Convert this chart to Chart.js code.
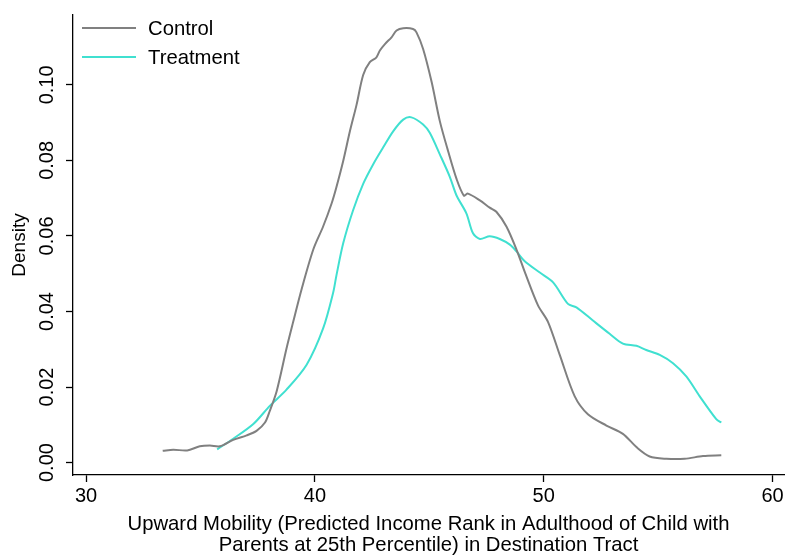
<!DOCTYPE html>
<html>
<head>
<meta charset="utf-8">
<script src="https://cdn.jsdelivr.net/npm/chart.js@4"></script>
<style>
  html, body { margin: 0; padding: 0; background: #fff; }
  #wrap { width: 786px; height: 556px; }
</style>
</head>
<body>
<div id="wrap"><canvas id="densityChart"></canvas></div>
<script>
// values
const seriesNames = ["Control", "Treatment"];

const controlX = [33.35, 33.81, 34.42, 34.97, 35.41, 35.85, 36.43, 37.02, 37.45, 37.82, 38.03, 38.33, 38.76, 39.05,
  39.42, 39.93, 40.36, 40.73, 40.94, 41.24, 41.53, 41.82, 42.11, 42.40, 42.69, 42.84, 43.06, 43.35, 43.57, 43.86,
  44.29, 44.44, 44.73, 45.10, 45.46, 45.82, 46.19, 46.51, 46.69, 47.21, 47.64, 47.93, 48.37, 48.81, 49.20, 49.75,
  50.19, 50.70, 51.35, 51.93, 52.74, 53.46, 54.05, 54.63, 55.36, 56.16, 56.96, 57.76];
const controlY = [0.0031, 0.0034, 0.0032, 0.0043, 0.0045, 0.0043, 0.0060, 0.0072, 0.0084, 0.0106, 0.0137, 0.0189, 0.0302, 0.0372,
  0.0459, 0.0564, 0.0625, 0.0686, 0.0729, 0.0799, 0.0877, 0.0947, 0.1026, 0.1060, 0.1073, 0.1091, 0.1108, 0.1126, 0.1144, 0.1150,
  0.1148, 0.1139, 0.1095, 0.1008, 0.0904, 0.0825, 0.0751, 0.0707, 0.0712, 0.0694, 0.0675, 0.0664, 0.0625, 0.0564, 0.0500, 0.0416,
  0.0372, 0.0285, 0.0176, 0.0128, 0.0098, 0.0076, 0.0041, 0.0016, 0.0010, 0.0010, 0.0017, 0.0019];

const treatX = [35.73, 36.43, 37.31, 38.03, 38.76, 39.64, 40.36, 40.80, 40.94, 41.24, 41.67, 42.11, 42.55, 42.98,
  43.42, 43.86, 44.22, 44.73, 45.02, 45.46, 45.90, 46.19, 46.62, 46.91, 47.21, 47.64, 48.08, 48.52, 48.81, 49.17,
  49.83, 50.41, 51.06, 51.43, 52.15, 52.88, 53.46, 54.05, 54.48, 55.07, 55.65, 56.23, 56.81, 57.54, 57.76];
const treatY = [0.0035, 0.0063, 0.0102, 0.0150, 0.0193, 0.0259, 0.0355, 0.0450, 0.0495, 0.0581, 0.0668, 0.0738, 0.0790, 0.0834,
  0.0877, 0.0908, 0.0914, 0.0895, 0.0873, 0.0816, 0.0756, 0.0707, 0.0660, 0.0607, 0.0592, 0.0599, 0.0592, 0.0577, 0.0559, 0.0533,
  0.0503, 0.0477, 0.0420, 0.0411, 0.0376, 0.0341, 0.0315, 0.0309, 0.0298, 0.0285, 0.0263, 0.0228, 0.0176, 0.0115, 0.0106];

const xTicks = [30, 40, 50, 60];
const yTicks = [0, 0.02, 0.04, 0.06, 0.08, 0.10];
const xTitle = ["Upward Mobility (Predicted Income Rank in Adulthood of Child with",
  "Parents at 25th Percentile) in Destination Tract"];
const yTitle = "Density";

const FONT = "'Liberation Sans', Arial, Helvetica, sans-serif";
const colors = ["#808080", "#40E0D0"];

function toPoints(xs, ys) {
  return xs.map((x, i) => ({ x: x, y: ys[i] }));
}

// rotated y tick labels + legend inside the plot
const extras = {
  id: 'extras',
  afterDraw(chart) {
    const ctx = chart.ctx;
    const ys = chart.scales.y;
    ctx.save();
    ctx.fillStyle = "#000";
    ctx.font = "20px " + FONT;
    ctx.textAlign = "center";
    ctx.textBaseline = "middle";
    yTicks.forEach(v => {
      const py = ys.getPixelForValue(v);
      ctx.save();
      ctx.translate(47, py);
      ctx.rotate(-Math.PI / 2);
      ctx.fillText(v.toFixed(2), 0, 0);
      ctx.restore();
    });

    const legendY = [28, 57];
    ctx.textAlign = "left";
    ctx.font = "20.3px " + FONT;
    chart.data.datasets.forEach((ds, i) => {
      ctx.strokeStyle = ds.borderColor;
      ctx.lineWidth = 2;
      ctx.beginPath();
      ctx.moveTo(82, legendY[i]);
      ctx.lineTo(136, legendY[i]);
      ctx.stroke();
      ctx.fillText(ds.label, 148, legendY[i] + 1);
    });
    ctx.restore();
  }
};

document.addEventListener("DOMContentLoaded", function () {
  const ctx = document.getElementById('densityChart').getContext('2d');

  new Chart(ctx, {
    type: 'line',
    data: {
      datasets: [{
        label: seriesNames[0],
        data: toPoints(controlX, controlY),
        borderColor: colors[0],
        borderWidth: 2,
        pointRadius: 0,
        tension: 0.3,
        fill: false
      }, {
        label: seriesNames[1],
        data: toPoints(treatX, treatY),
        borderColor: colors[1],
        borderWidth: 2,
        pointRadius: 0,
        tension: 0.3,
        fill: false
      }]
    },
    options: {
      responsive: true,
      maintainAspectRatio: false,
      animation: false,
      layout: { padding: { top: 9, right: 2, left: 0, bottom: 0 } },
      plugins: {
        legend: { display: false },
        tooltip: { enabled: false }
      },
      scales: {
        x: {
          type: 'linear',
          min: 29.43,
          max: 60.5,
          afterBuildTicks: s => { s.ticks = xTicks.map(v => ({ value: v })); },
          afterFit: s => { s.height = 81; },
          grid: { drawOnChartArea: false, tickLength: 7, color: "#000", tickWidth: 1.3 },
          border: { display: true, color: "#000", width: 1.3 },
          ticks: { color: "#000", padding: 2, font: { family: FONT, size: 20 }, maxRotation: 0 },
          title: {
            display: true,
            text: xTitle,
            color: "#000",
            font: { family: FONT, size: 20.3, lineHeight: 1.04 },
            padding: { top: 0, bottom: 0 }
          }
        },
        y: {
          type: 'linear',
          min: -0.0033,
          max: 0.1185,
          afterBuildTicks: s => { s.ticks = yTicks.map(v => ({ value: v })); },
          afterFit: s => { s.width = 73; },
          grid: { drawOnChartArea: false, tickLength: 7, color: "#000", tickWidth: 1.3 },
          border: { display: true, color: "#000", width: 1.3 },
          ticks: { color: "rgba(0,0,0,0)", font: { family: FONT, size: 20 } },
          title: {
            display: true,
            text: yTitle,
            color: "#000",
            font: { family: FONT, size: 19 },
            padding: { top: 8, bottom: 0 }
          }
        }
      }
    },
    plugins: [extras]
  });
});
</script>
</body>
</html>
